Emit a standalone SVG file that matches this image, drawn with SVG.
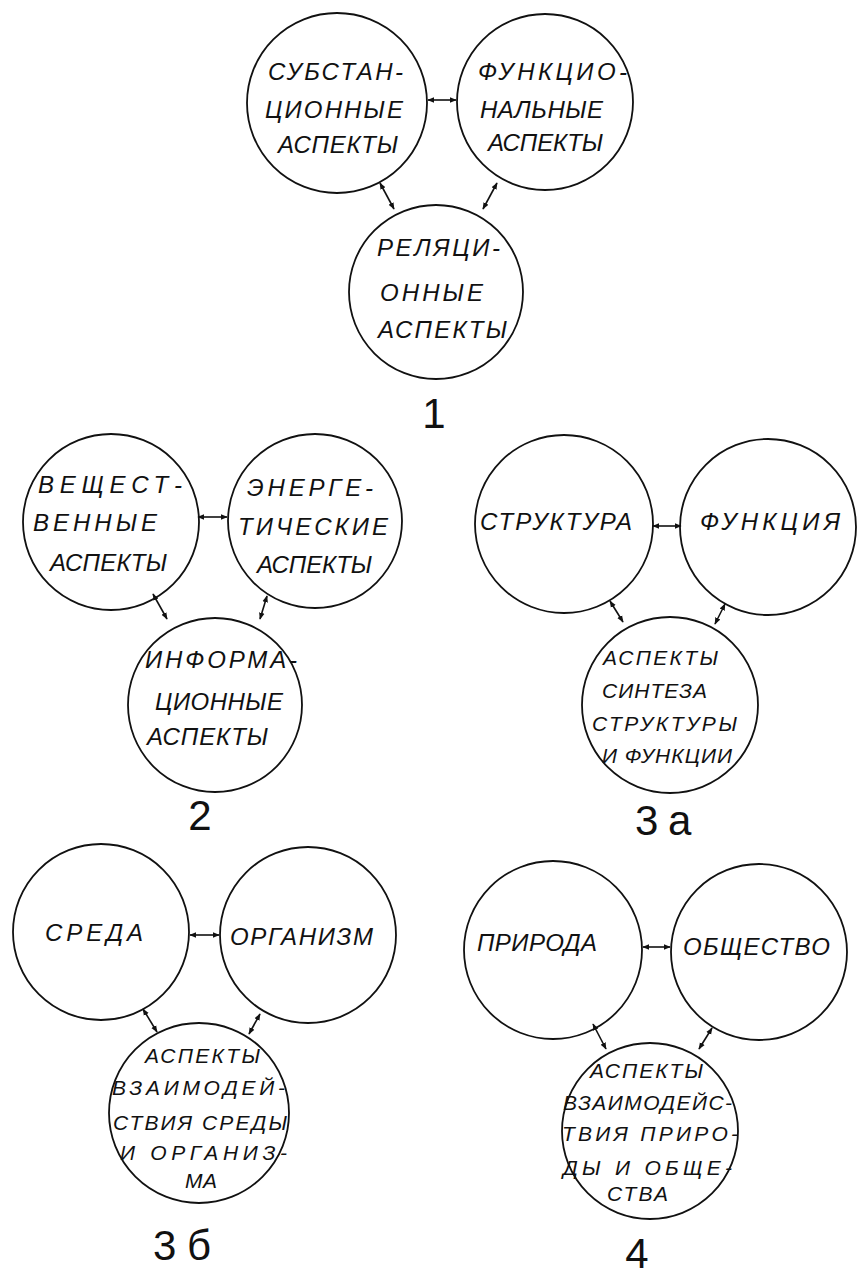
<svg xmlns="http://www.w3.org/2000/svg" width="857" height="1280" viewBox="0 0 857 1280">
<style>
.c{fill:none;stroke:#111;stroke-width:1.8}
.t{font-family:"Liberation Sans","DejaVu Sans",sans-serif;font-style:italic;font-size:24px;fill:#111}
.s{font-size:21px}
.n{font-family:"Liberation Sans","DejaVu Sans",sans-serif;font-size:42px;fill:#111}
.a{stroke:#111;stroke-width:1.6;fill:none;marker-start:url(#ah);marker-end:url(#ah)}
</style>
<defs>
<marker id="ah" viewBox="0 0 10 10" refX="9" refY="5" markerWidth="7" markerHeight="7" markerUnits="userSpaceOnUse" orient="auto-start-reverse">
<path d="M0,1 L10,5 L0,9 z" fill="#111"/>
</marker>
</defs>
<rect width="857" height="1280" fill="#fff"/>

<g id="d1-subst"><circle class="c" cx="337" cy="103" r="90"/>
<text class="t" x="268" y="80" textLength="135" lengthAdjust="spacing">СУБСТАН-</text>
<text class="t" x="265" y="118" textLength="138" lengthAdjust="spacing">ЦИОННЫЕ</text>
<text class="t" x="278" y="153" textLength="120" lengthAdjust="spacing">АСПЕКТЫ</text></g>
<g id="d1-func"><circle class="c" cx="545" cy="102" r="88"/>
<text class="t" x="478" y="80" textLength="149" lengthAdjust="spacing">ФУНКЦИО-</text>
<text class="t" x="480" y="118" textLength="123" lengthAdjust="spacing">НАЛЬНЫЕ</text>
<text class="t" x="488" y="151" textLength="115" lengthAdjust="spacing">АСПЕКТЫ</text></g>
<g id="d1-rel"><circle class="c" cx="436" cy="292" r="87"/>
<text class="t" x="377" y="256" textLength="123" lengthAdjust="spacing">РЕЛЯЦИ-</text>
<text class="t" x="380" y="301" textLength="103" lengthAdjust="spacing">ОННЫЕ</text>
<text class="t" x="378" y="338" textLength="129" lengthAdjust="spacing">АСПЕКТЫ</text></g>
<text class="n" x="434" y="428" text-anchor="middle">1</text>

<g id="d2-vesh"><circle class="c" cx="111" cy="522" r="88"/>
<text class="t" x="38" y="493" textLength="144" lengthAdjust="spacing">ВЕЩЕСТ-</text>
<text class="t" x="33" y="531" textLength="124" lengthAdjust="spacing">ВЕННЫЕ</text>
<text class="t" x="50" y="571" textLength="117" lengthAdjust="spacing">АСПЕКТЫ</text></g>
<g id="d2-energ"><circle class="c" cx="315" cy="521" r="87"/>
<text class="t" x="247" y="496" textLength="126" lengthAdjust="spacing">ЭНЕРГЕ-</text>
<text class="t" x="238" y="535" textLength="150" lengthAdjust="spacing">ТИЧЕСКИЕ</text>
<text class="t" x="257" y="573" textLength="115" lengthAdjust="spacing">АСПЕКТЫ</text></g>
<g id="d2-inform"><circle class="c" cx="215" cy="705" r="87"/>
<text class="t" x="145" y="668" textLength="152" lengthAdjust="spacing">ИНФОРМА-</text>
<text class="t" x="155" y="710" textLength="128" lengthAdjust="spacing">ЦИОННЫЕ</text>
<text class="t" x="147" y="745" textLength="121" lengthAdjust="spacing">АСПЕКТЫ</text></g>
<text class="n" x="200" y="830" text-anchor="middle">2</text>

<g id="d3a-struct"><circle class="c" cx="564" cy="524" r="89"/>
<text class="t" x="480" y="530" textLength="152" lengthAdjust="spacing">СТРУКТУРА</text></g>
<g id="d3a-func"><circle class="c" cx="768" cy="527" r="88"/>
<text class="t" x="700" y="530" textLength="140" lengthAdjust="spacing">ФУНКЦИЯ</text></g>
<g id="d3a-synth"><circle class="c" cx="670" cy="705" r="88"/>
<text class="t s" x="603" y="665" textLength="115" lengthAdjust="spacing">АСПЕКТЫ</text>
<text class="t s" x="602" y="698" textLength="105" lengthAdjust="spacing">СИНТЕЗА</text>
<text class="t s" x="592" y="731" textLength="145" lengthAdjust="spacing">СТРУКТУРЫ</text>
<text class="t s" x="602" y="763" textLength="130" lengthAdjust="spacing">И ФУНКЦИИ</text></g>
<text class="n" x="635" y="835">3</text>
<text class="n" x="668" y="835">а</text>

<g id="d3b-sreda"><circle class="c" cx="101" cy="932" r="88"/>
<text class="t" x="45" y="941" textLength="98" lengthAdjust="spacing">СРЕДА</text></g>
<g id="d3b-org"><circle class="c" cx="308" cy="935" r="88"/>
<text class="t" x="230" y="945" textLength="143" lengthAdjust="spacing">ОРГАНИЗМ</text></g>
<g id="d3b-inter"><circle class="c" cx="199" cy="1113" r="90"/>
<text class="t s" x="145" y="1063" textLength="115" lengthAdjust="spacing">АСПЕКТЫ</text>
<text class="t s" x="112" y="1095" textLength="173" lengthAdjust="spacing">ВЗАИМОДЕЙ-</text>
<text class="t s" x="113" y="1130" textLength="174" lengthAdjust="spacing">СТВИЯ СРЕДЫ</text>
<text class="t s" x="120" y="1160" textLength="167" lengthAdjust="spacing">И ОРГАНИЗ-</text>
<text class="t s" x="185" y="1188" textLength="32" lengthAdjust="spacing">МА</text></g>
<text class="n" x="153" y="1260">3</text>
<text class="n" x="187" y="1260">б</text>

<g id="d4-prir"><circle class="c" cx="553" cy="950" r="89"/>
<text class="t" x="477" y="951" textLength="120" lengthAdjust="spacing">ПРИРОДА</text></g>
<g id="d4-obsh"><circle class="c" cx="759" cy="952" r="88"/>
<text class="t" x="683" y="955" textLength="147" lengthAdjust="spacing">ОБЩЕСТВО</text></g>
<g id="d4-inter"><circle class="c" cx="650" cy="1131" r="88"/>
<text class="t s" x="590" y="1078" textLength="113" lengthAdjust="spacing">АСПЕКТЫ</text>
<text class="t s" x="563" y="1110" textLength="169" lengthAdjust="spacing">ВЗАИМОДЕЙС-</text>
<text class="t s" x="562" y="1141" textLength="176" lengthAdjust="spacing">ТВИЯ ПРИРО-</text>
<text class="t s" x="563" y="1175" textLength="169" lengthAdjust="spacing">ДЫ И ОБЩЕ-</text>
<text class="t s" x="607" y="1201" textLength="61" lengthAdjust="spacing">СТВА</text></g>
<text class="n" x="637" y="1268" text-anchor="middle">4</text>

<g id="connectors">
<line class="a" x1="428" y1="100" x2="456" y2="100"/>
<line class="a" x1="380" y1="183" x2="394" y2="209"/>
<line class="a" x1="497" y1="183" x2="483" y2="209"/>
<line class="a" x1="198" y1="517" x2="227" y2="517"/>
<line class="a" x1="153" y1="594" x2="167" y2="619"/>
<line class="a" x1="267" y1="596" x2="260" y2="619"/>
<line class="a" x1="653" y1="526" x2="681" y2="526"/>
<line class="a" x1="610" y1="601" x2="623" y2="622"/>
<line class="a" x1="725" y1="604" x2="715" y2="624"/>
<line class="a" x1="190" y1="935" x2="219" y2="935"/>
<line class="a" x1="143" y1="1009" x2="157" y2="1032"/>
<line class="a" x1="260" y1="1014" x2="249" y2="1034"/>
<line class="a" x1="643" y1="947" x2="670" y2="947"/>
<line class="a" x1="593" y1="1024" x2="606" y2="1049"/>
<line class="a" x1="712" y1="1028" x2="699" y2="1049"/>
</g>
</svg>
